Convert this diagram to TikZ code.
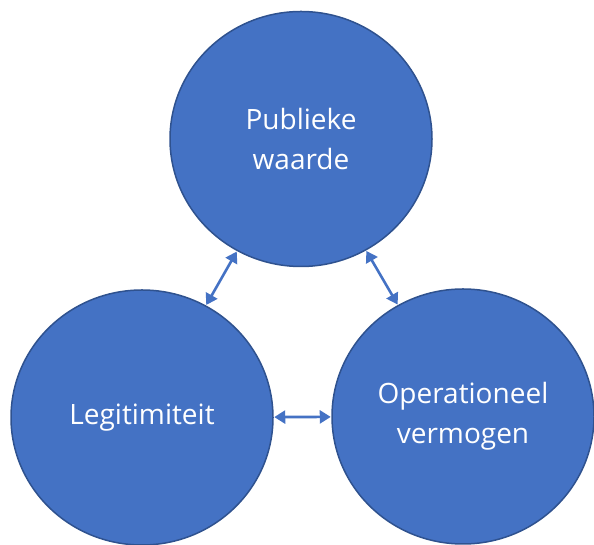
\documentclass[tikz,border=0pt]{standalone}
\usepackage{fontspec}
\setmainfont{Open Sans}
\usetikzlibrary{shapes.geometric, arrows.meta}
\definecolor{officeblue}{HTML}{4472C4}
\definecolor{rimblue}{HTML}{2F528F}

\begin{document}
\begin{tikzpicture}[x=1pt, y=1pt, <->, >={Triangle[width=13pt, length=11pt]},
  bol/.style={ellipse, draw=rimblue, fill=officeblue, line width=1.5pt,
    minimum width=262pt, minimum height=255pt, inner sep=0pt,
    text=white, align=center, font=\fontsize{28}{40}\selectfont},
  pijl/.style={draw=officeblue, line width=2.6pt, shorten <=0.5pt, shorten >=0.5pt}]

  \useasboundingbox (0,0) rectangle (594,545);

  % Circles
  \node[bol] (pw) at (301,406) {Publieke\\waarde};
  \node[bol] (leg) at (142,127.5) {Legitimiteit};
  \node[bol] (ov) at (463,128.5) {Operationeel\\vermogen};

  % Arrows
  \path (pw) edge [pijl] (leg);
  \path (pw) edge [pijl] (ov);
  \path (leg) edge [pijl] (ov);

\end{tikzpicture}
\end{document}
